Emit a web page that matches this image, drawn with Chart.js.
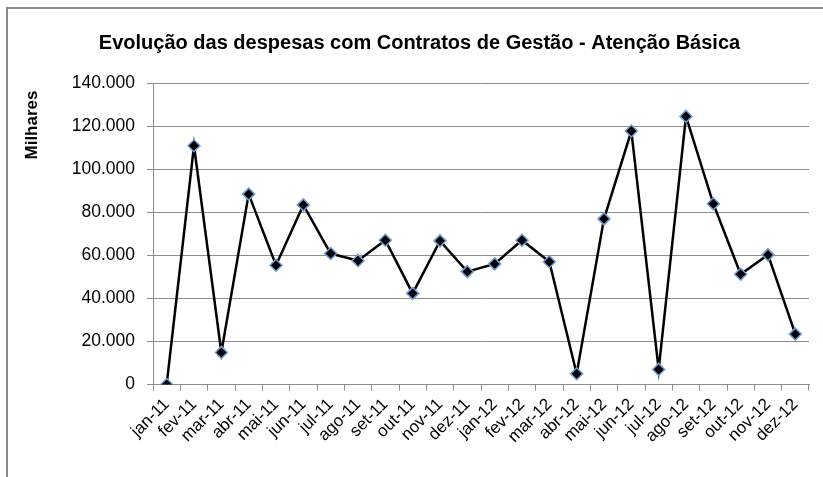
<!DOCTYPE html>
<html>
<head>
<meta charset="utf-8">
<script src="https://cdn.jsdelivr.net/npm/chart.js@4/dist/chart.umd.min.js"></script>
<style>
  html, body { margin: 0; padding: 0; background: #fff; }
  canvas { display: block; }
</style>
</head>
<body>
<canvas id="c" width="823" height="477"></canvas>
<script>
const categories = ['jan-11','fev-11','mar-11','abr-11','mai-11','jun-11','jul-11','ago-11','set-11','out-11','nov-11','dez-11',
                    'jan-12','fev-12','mar-12','abr-12','mai-12','jun-12','jul-12','ago-12','set-12','out-12','nov-12','dez-12'];
const despesas = [0, 110850, 14900, 88400, 55350, 83400, 60800, 57500, 67000, 42300, 66700, 52400,
                  56000, 67000, 57000, 5000, 76900, 117700, 7000, 124500, 83900, 51200, 60200, 23400];
const chartTitle = 'Evolução das despesas com Contratos de Gestão - Atenção Básica';
const yAxisTitle = 'Milhares';
const yMin = 0, yMax = 140000, yStep = 20000;

function fmt(v) {
  return String(Math.round(v)).replace(/\B(?=(\d{3})+(?!\d))/g, '.');
}

const FONT = '"Liberation Sans", Arial, sans-serif';
const grid = '#8c8c8c';

const decor = {
  id: 'decor',
  afterDraw(chart) {
    const ctx = chart.ctx;
    ctx.save();
    ctx.fillStyle = '#8a8a8a';
    ctx.fillRect(6, 7, 2, chart.height);
    ctx.fillRect(6, 7, chart.width, 2);
    ctx.translate(32, 125);
    ctx.rotate(-Math.PI / 2);
    ctx.fillStyle = '#000';
    ctx.font = 'bold 17px ' + FONT;
    ctx.textAlign = 'center';
    ctx.textBaseline = 'middle';
    ctx.fillText(yAxisTitle, 0, 0);
    ctx.restore();
  }
};

new Chart(document.getElementById('c'), {
  type: 'line',
  data: {
    labels: categories,
    datasets: [{
      data: despesas,
      borderColor: '#000',
      borderWidth: 2.5,
      tension: 0,
      pointStyle: 'rectRot',
      pointRadius: 6,
      pointBackgroundColor: '#000',
      pointBorderColor: '#6d9bd6',
      pointBorderWidth: 1.5
    }]
  },
  plugins: [decor],
  options: {
    responsive: false,
    animation: false,
    devicePixelRatio: 1,
    layout: { padding: { top: 0, left: 30, right: 14, bottom: 0 } },
    plugins: {
      legend: { display: false },
      tooltip: { enabled: false },
      title: {
        display: true,
        text: chartTitle,
        color: '#000',
        font: { family: FONT, size: 20, weight: 'bold', lineHeight: 1.2 },
        padding: { top: 31, bottom: 28 }
      }
    },
    scales: {
      x: {
        type: 'category',
        offset: true,
        afterFit: s => { s.height = 92.5; },
        grid: { offset: true, drawOnChartArea: false, drawTicks: true, tickLength: 6, color: grid },
        border: { display: true, color: grid, width: 1 },
        ticks: { color: '#000', font: { family: FONT, size: 17 }, maxRotation: 45, minRotation: 45, padding: 4, autoSkip: false }
      },
      y: {
        min: yMin, max: yMax,
        afterFit: s => { s.width = 123; },
        grid: { color: grid, lineWidth: 1, drawTicks: true, tickLength: 6 },
        border: { display: true, color: grid, width: 1 },
        ticks: { stepSize: yStep, color: '#000', font: { family: FONT, size: 17.5 }, padding: 12, callback: v => fmt(v) }
      }
    }
  }
});
</script>
</body>
</html>
